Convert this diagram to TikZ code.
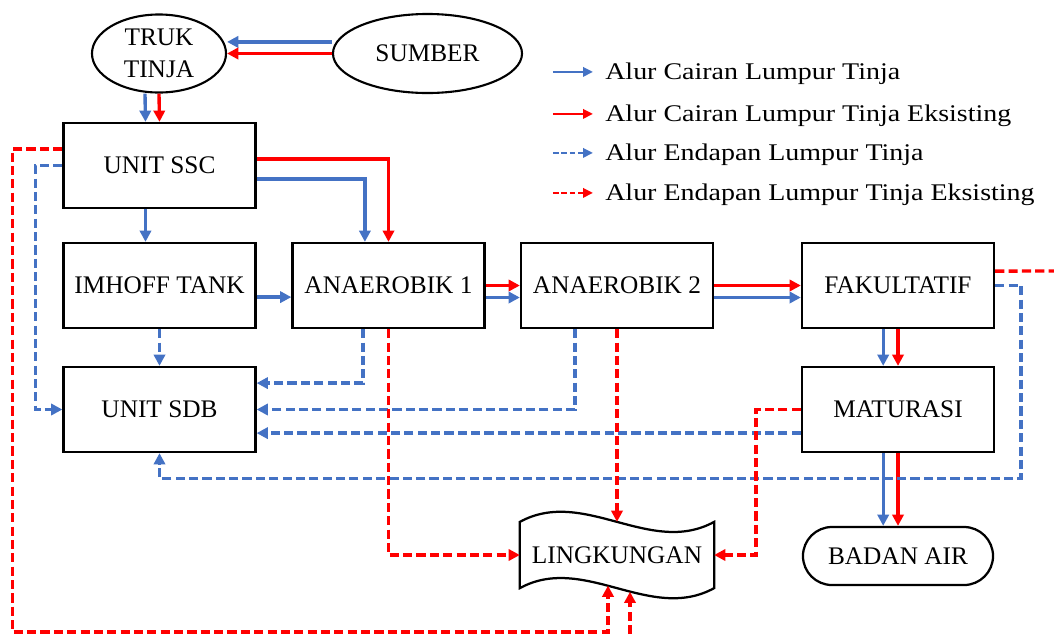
\documentclass[tikz,border=0pt]{standalone}
\usepackage{fontspec}
\setmainfont{Liberation Serif}
\newfontfamily\ketfont[FakeStretch=1.17]{Liberation Serif}
\usepackage{tikz}
\usetikzlibrary{arrows.meta}
\usetikzlibrary{calc}
\usetikzlibrary{shapes.geometric, shapes.misc}
\usetikzlibrary{positioning}

\definecolor{alirbiru}{HTML}{4472C4}
\definecolor{alirmerah}{HTML}{FF0000}

\tikzset{
  unitbox/.style={draw, line width=1.6pt, minimum width=4.8cm, minimum height=2.125cm, inner sep=0pt, font=\fontsize{18}{22.5}\selectfont},
  oval/.style={draw, ellipse, line width=1.5pt, inner sep=0pt, align=center, font=\fontsize{18}{22.5}\selectfont},
  cair/.style={alirbiru, line width=2.4pt, -{Triangle[length=8pt,width=8pt]}},
  cairE/.style={cair, alirmerah},
  endap/.style={cair, dash pattern=on 6.5pt off 3pt},
  endapE/.style={endap, alirmerah},
  ket/.style={anchor=base west, inner sep=0pt, font=\ketfont\fontsize{17}{20}\selectfont},
  ketpanah/.style={line width=1.8pt, -{Triangle[length=7pt,width=6.5pt]}}
}

\begin{document}
\begin{tikzpicture}[x=0.025cm, y=-0.025cm]
            \useasboundingbox (0,0) rectangle (1054,634);

            \draw (159,53.5) node[oval, minimum width=3.35cm, minimum height=1.95cm]     (truk) {TRUK\\TINJA};
            \draw (427.5,53.5) node[oval, minimum width=4.725cm, minimum height=1.975cm] (sumber) {SUMBER};
            \draw (159.5,165.5) node[unitbox]                   (ssc) {UNIT SSC};
            \draw (159.5,285.5) node[unitbox]                   (imhoff) {IMHOFF TANK};
            \draw (388.5,285.5) node[unitbox]                   (an1) {ANAEROBIK 1};
            \draw (617,285.5) node[unitbox]                     (an2) {ANAEROBIK 2};
            \draw (898,285.5) node[unitbox]                     (fak) {FAKULTATIF};
            \draw (159.5,409.5) node[unitbox]                   (sdb) {UNIT SDB};
            \draw (898,409.5) node[unitbox]                     (mat) {MATURASI};
            \draw (617,555) node[unitbox, draw=none, minimum height=1.6cm] (ling) {LINGKUNGAN};
            \draw (898,556) node[unitbox, rounded rectangle, minimum width=4.75cm, minimum height=1.45cm] (badan) {BADAN AIR};
            \draw[line width=1.6pt] (ling.north west) .. controls +(64,-35) and +(-64,35) .. (ling.north east)
                -- (ling.south east) .. controls +(-64,35) and +(64,-35) .. (ling.south west) -- cycle;

            \coordinate (lingin1) at ($(ling.south)+(-9,-2.6)$);
            \coordinate (lingin2) at ($(ling.south)+(13,3.6)$);
            \coordinate (fakout) at (1054,271);
            \coordinate (bawah) at (630,634);

            \draw[cair] ([yshift=0.29cm]sumber.west) -- ([yshift=0.29cm]truk.east);
            \draw[cairE] (sumber.west) -- (truk.east);
            \draw[cair] ([xshift=-0.35cm]truk.south) -- ([xshift=-0.35cm]ssc.north);
            \draw[cairE] (truk.south) -- (ssc.north);
            \draw[cair] ([xshift=-0.35cm]ssc.south) -- ([xshift=-0.35cm]imhoff.north);
            \draw[cairE] ([yshift=0.16cm]ssc.east) -| (an1.north);
            \draw[cair] ([yshift=-0.34cm]ssc.east) -| ([xshift=-0.59cm]an1.north);
            \draw[cair] ([yshift=-0.29cm]imhoff.east) -- ([yshift=-0.29cm]an1.west);
            \draw[cairE] (an1.east) -- (an2.west);
            \draw[cair] ([yshift=-0.3cm]an1.east) -- ([yshift=-0.3cm]an2.west);
            \draw[cairE] (an2.east) -- (fak.west);
            \draw[cair] ([yshift=-0.3cm]an2.east) -- ([yshift=-0.3cm]fak.west);
            \draw[cair] ([xshift=-0.37cm]fak.south) -- ([xshift=-0.37cm]mat.north);
            \draw[cairE] (fak.south) -- (mat.north);
            \draw[cair] ([xshift=-0.37cm]mat.south) -- ([xshift=-0.37cm]badan.north);
            \draw[cairE] (mat.south) -- (badan.north);

            \draw[endap] (ssc.west) -- ++(-27,0) |- (sdb.west);
            \draw[endapE] ([yshift=0.41cm]ssc.west) -- ++(-50,0) -- ++(0,483) -| (lingin1);
            \draw[endap] (imhoff.south) -- (sdb.north);
            \draw[endap] ([xshift=-0.64cm]an1.south) |- ([yshift=0.66cm]sdb.east);
            \draw[endap] ([xshift=-1.05cm]an2.south) |- (sdb.east);
            \draw[endap] ([yshift=-0.59cm]mat.west) -- ([yshift=-0.59cm]sdb.east);
            \draw[endap] (fak.east) -- ++(26,0) -- ++(0,193) -| (sdb.south);
            \draw[endapE, -] ([yshift=0.36cm]fak.east) -- (fakout);
            \draw[endapE] (an1.south) |- (ling.west);
            \draw[endapE] (an2.south) -- (ling.north);
            \draw[endapE] (mat.west) -- ++(-45,0) |- (ling.east);
            \draw[endapE] (bawah) -- (lingin2);

            \draw (605,79.5) node[ket]  (k1) {Alur Cairan Lumpur Tinja};
            \draw (605,121.5) node[ket] (k2) {Alur Cairan Lumpur Tinja Eksisting};
            \draw (605,160.5) node[ket] (k3) {Alur Endapan Lumpur Tinja};
            \draw (605,200.5) node[ket] (k4) {Alur Endapan Lumpur Tinja Eksisting};
            \draw[ketpanah, alirbiru] ([xshift=-1.3cm, yshift=0.19cm]k1.base west) -- ([xshift=-0.3cm, yshift=0.19cm]k1.base west);
            \draw[ketpanah, alirmerah] ([xshift=-1.3cm, yshift=0.19cm]k2.base west) -- ([xshift=-0.3cm, yshift=0.19cm]k2.base west);
            \draw[ketpanah, alirbiru, dash pattern=on 4pt off 2pt] ([xshift=-1.3cm, yshift=0.19cm]k3.base west) -- ([xshift=-0.3cm, yshift=0.19cm]k3.base west);
            \draw[ketpanah, alirmerah, dash pattern=on 4pt off 2pt] ([xshift=-1.3cm, yshift=0.19cm]k4.base west) -- ([xshift=-0.3cm, yshift=0.19cm]k4.base west);

\end{tikzpicture}
\end{document}
